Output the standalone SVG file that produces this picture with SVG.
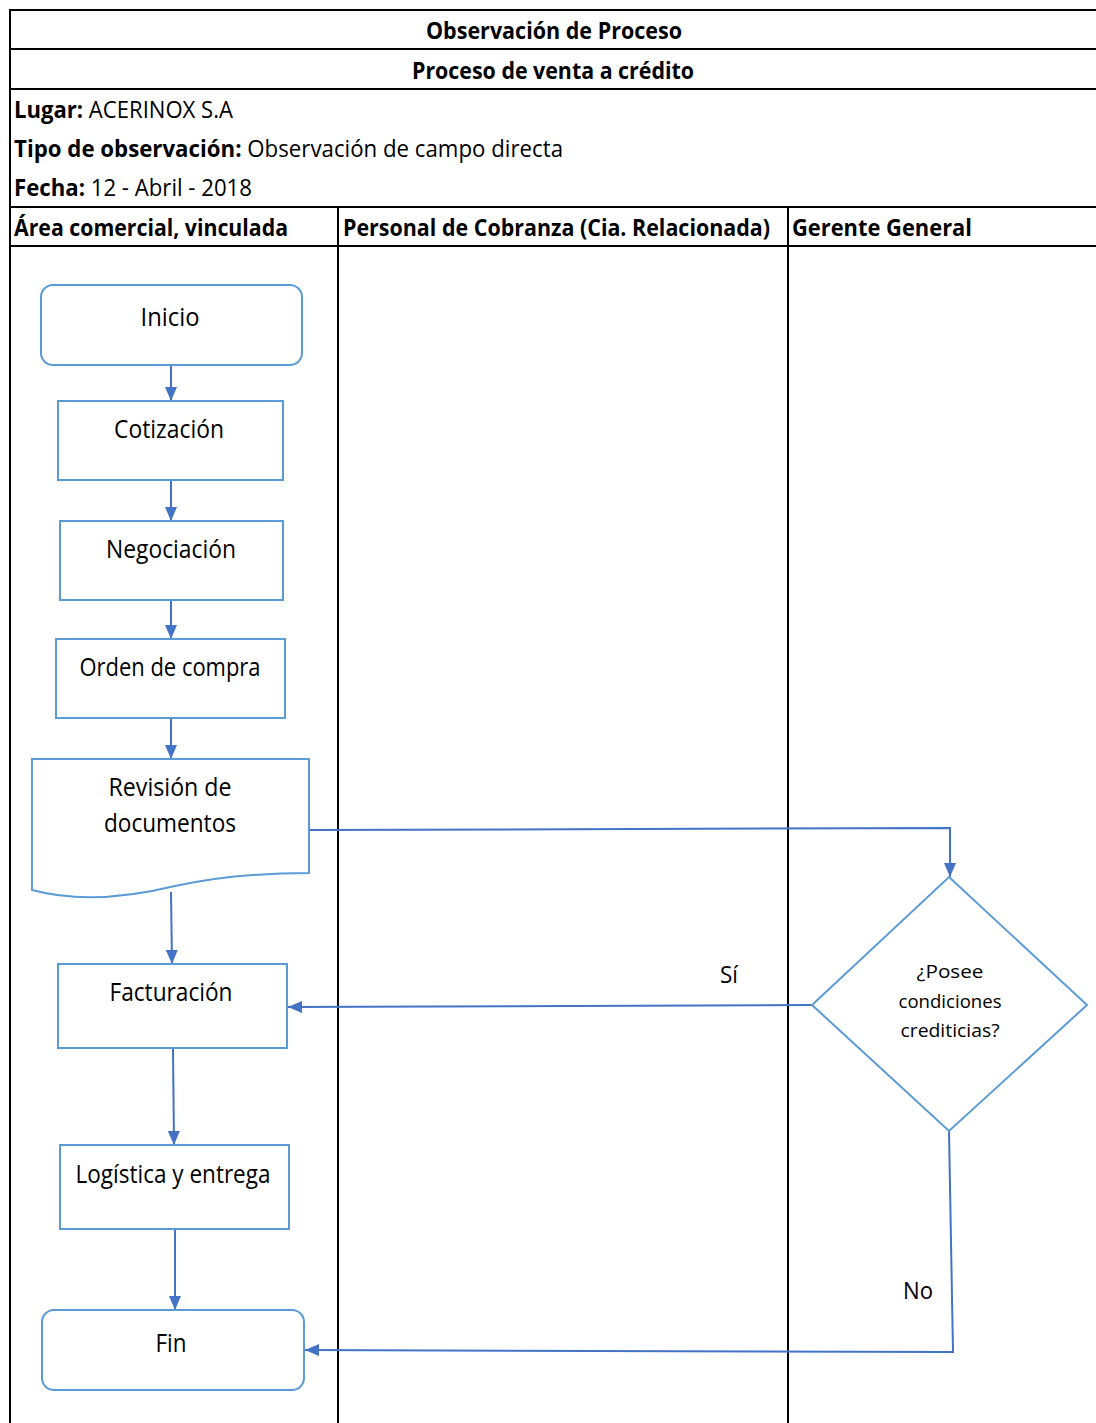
<svg xmlns="http://www.w3.org/2000/svg" width="1096" height="1423" viewBox="0 0 1096 1423">
<style>
text{font-family:"Liberation Sans Narrow","Open Sans","Liberation Sans",sans-serif;fill:#000}
.h{font-size:23px;font-weight:bold}
.r{font-size:23px}
.n{font-size:25px;text-anchor:middle}
.d{font-size:18px;text-anchor:middle}
.grid{stroke:#000;stroke-width:2;fill:none}
.node{fill:#fff;stroke:#5B9BD5;stroke-width:2}
.conn{stroke:#4472C4;stroke-width:2;fill:none}
</style>
<defs>
<marker id="arr" markerUnits="userSpaceOnUse" markerWidth="14" markerHeight="12" refX="14" refY="6" orient="auto">
<path d="M0,0 L14,6 L0,12 Z" fill="#4472C4"/>
</marker>
</defs>
<rect width="1096" height="1423" fill="#fff"/>
<g id="table">
<line class="grid" x1="10" y1="10" x2="1096" y2="10"/>
<line class="grid" x1="10" y1="49" x2="1096" y2="49"/>
<line class="grid" x1="10" y1="89" x2="1096" y2="89"/>
<line class="grid" x1="10" y1="207" x2="1096" y2="207"/>
<line class="grid" x1="10" y1="246" x2="1096" y2="246"/>
<line class="grid" x1="10" y1="9" x2="10" y2="1423"/>
<line class="grid" x1="338" y1="207" x2="338" y2="1423"/>
<line class="grid" x1="788" y1="207" x2="788" y2="1423"/>
<text class="h" x="554" y="39" text-anchor="middle" textLength="256" lengthAdjust="spacingAndGlyphs">Observación de Proceso</text>
<text class="h" x="553" y="79" text-anchor="middle" textLength="282" lengthAdjust="spacingAndGlyphs">Proceso de venta a crédito</text>
<text class="r" x="14" y="118" textLength="219" lengthAdjust="spacingAndGlyphs"><tspan font-weight="bold">Lugar:</tspan> ACERINOX S.A</text>
<text class="r" x="14" y="157" textLength="549" lengthAdjust="spacingAndGlyphs"><tspan font-weight="bold">Tipo de observación:</tspan> Observación de campo directa</text>
<text class="r" x="14" y="196" textLength="238" lengthAdjust="spacingAndGlyphs"><tspan font-weight="bold">Fecha:</tspan> 12 - Abril - 2018</text>
<text class="h" x="14" y="236" textLength="274" lengthAdjust="spacingAndGlyphs">Área comercial, vinculada</text>
<text class="h" x="343" y="236" textLength="427" lengthAdjust="spacingAndGlyphs">Personal de Cobranza (Cia. Relacionada)</text>
<text class="h" x="792" y="236" textLength="180" lengthAdjust="spacingAndGlyphs">Gerente General</text>
</g>
<g id="connectors">
<line class="conn" x1="171" y1="366" x2="171" y2="401" marker-end="url(#arr)"/>
<line class="conn" x1="171" y1="481" x2="171" y2="521" marker-end="url(#arr)"/>
<line class="conn" x1="171" y1="601" x2="171" y2="639" marker-end="url(#arr)"/>
<line class="conn" x1="171" y1="719" x2="171" y2="759" marker-end="url(#arr)"/>
<line class="conn" x1="171" y1="892" x2="172" y2="964" marker-end="url(#arr)"/>
<line class="conn" x1="173" y1="1049" x2="174" y2="1145" marker-end="url(#arr)"/>
<line class="conn" x1="175" y1="1230" x2="175" y2="1310" marker-end="url(#arr)"/>
<polyline class="conn" points="310,830 950,828 950,877" marker-end="url(#arr)"/>
<line class="conn" x1="812" y1="1005" x2="288" y2="1007" marker-end="url(#arr)"/>
<polyline class="conn" points="949,1131 953,1352 305,1350" marker-end="url(#arr)"/>
<text class="r" x="720" y="983" textLength="18" lengthAdjust="spacingAndGlyphs">Sí</text>
<text class="r" x="903" y="1299" textLength="30" lengthAdjust="spacingAndGlyphs">No</text>
</g>
<g id="inicio">
<rect class="node" x="41" y="285" width="261" height="80" rx="12"/>
<text class="n" x="170" y="326" textLength="59" lengthAdjust="spacingAndGlyphs">Inicio</text>
</g>
<g id="cotizacion">
<rect class="node" x="58" y="401" width="225" height="79"/>
<text class="n" x="169" y="438" textLength="110" lengthAdjust="spacingAndGlyphs">Cotización</text>
</g>
<g id="negociacion">
<rect class="node" x="60" y="521" width="223" height="79"/>
<text class="n" x="171" y="558" textLength="130" lengthAdjust="spacingAndGlyphs">Negociación</text>
</g>
<g id="orden">
<rect class="node" x="56" y="639" width="229" height="79"/>
<text class="n" x="170" y="676" textLength="181" lengthAdjust="spacingAndGlyphs">Orden de compra</text>
</g>
<g id="revision">
<path class="node" d="M32,759 H309 V873 C260,873 220,876 175,886 C130,897 80,903 32,890 Z"/>
<text class="n" x="170" y="796" textLength="123" lengthAdjust="spacingAndGlyphs">Revisión de</text>
<text class="n" x="170" y="832" textLength="132" lengthAdjust="spacingAndGlyphs">documentos</text>
</g>
<g id="decision">
<polygon class="node" points="949,877 1087,1005 949,1131 812,1005"/>
<text class="d" x="950" y="978" textLength="67" lengthAdjust="spacingAndGlyphs">¿Posee</text>
<text class="d" x="950" y="1008" textLength="103" lengthAdjust="spacingAndGlyphs">condiciones</text>
<text class="d" x="950" y="1037" textLength="99" lengthAdjust="spacingAndGlyphs">crediticias?</text>
</g>
<g id="facturacion">
<rect class="node" x="58" y="964" width="229" height="84"/>
<text class="n" x="171" y="1001" textLength="123" lengthAdjust="spacingAndGlyphs">Facturación</text>
</g>
<g id="logistica">
<rect class="node" x="60" y="1145" width="229" height="84"/>
<text class="n" x="173" y="1183" textLength="195" lengthAdjust="spacingAndGlyphs">Logística y entrega</text>
</g>
<g id="fin">
<rect class="node" x="42" y="1310" width="262" height="80" rx="12"/>
<text class="n" x="171" y="1352" textLength="31" lengthAdjust="spacingAndGlyphs">Fin</text>
</g>
</svg>
